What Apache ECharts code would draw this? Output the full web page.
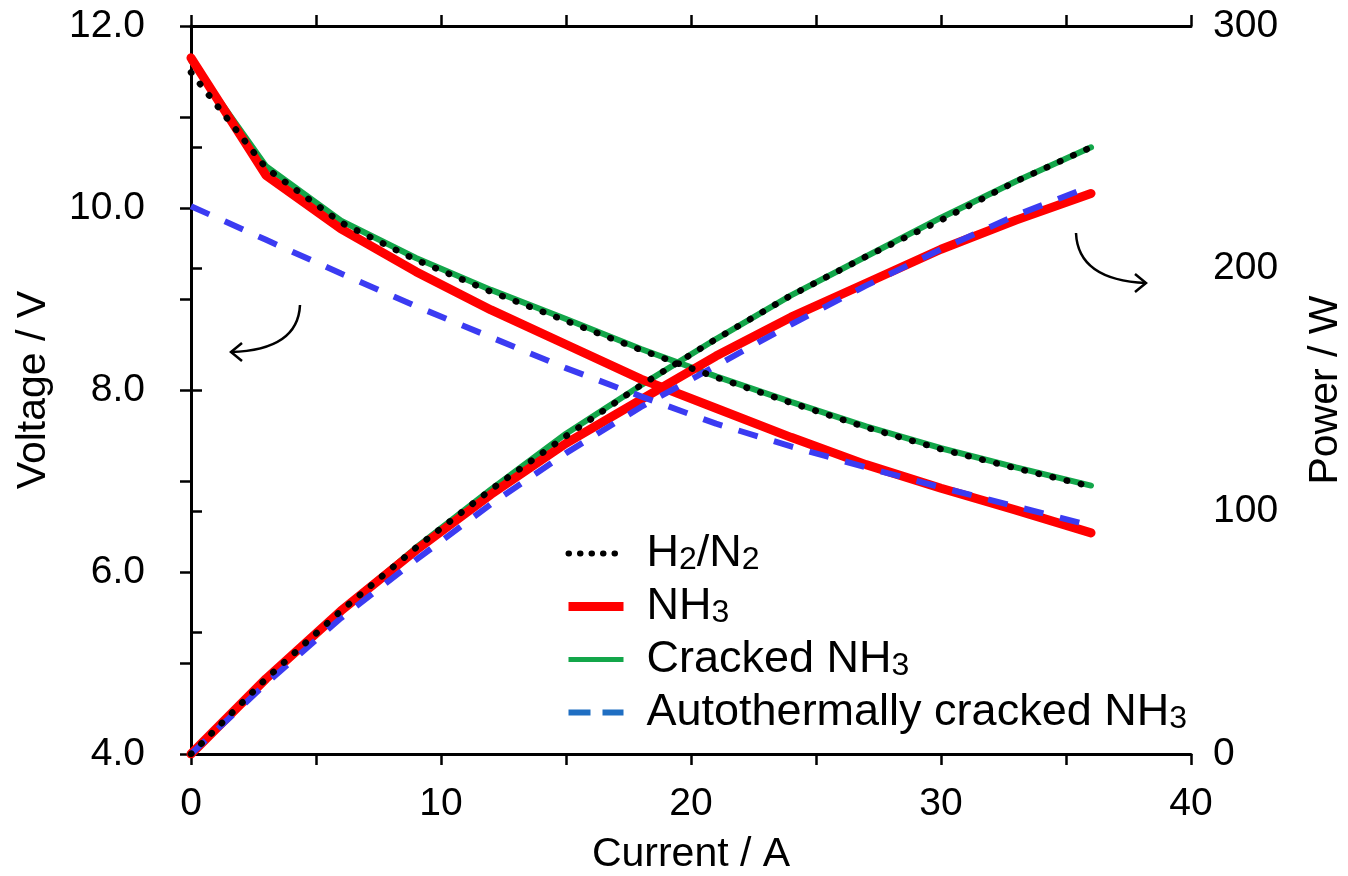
<!DOCTYPE html>
<html>
<head>
<meta charset="utf-8">
<script src="https://cdn.jsdelivr.net/npm/echarts@6/dist/echarts.min.js"></script>
<style>
  html, body { margin: 0; padding: 0; background: #fff; }
  #chart { width: 1348px; height: 876px; }
</style>
</head>
<body>
<div id="chart"></div>
<script>
// current steps (A)
const current = [0, 3, 6, 9, 12, 15, 18, 21, 24, 27, 30, 33, 36];
// voltage (V)
const voltH2N2    = [11.49, 10.44, 9.84, 9.43, 9.08, 8.76, 8.44, 8.14, 7.86, 7.59, 7.35, 7.14, 6.94];
const voltNH3     = [11.65, 10.36, 9.77, 9.30, 8.88, 8.50, 8.12, 7.80, 7.48, 7.18, 6.92, 6.68, 6.43];
const voltCracked = [11.62, 10.46, 9.86, 9.45, 9.10, 8.78, 8.45, 8.15, 7.87, 7.60, 7.36, 7.15, 6.95];
const voltAuto    = [10.02, 9.65, 9.28, 8.92, 8.58, 8.24, 7.93, 7.63, 7.38, 7.15, 6.93, 6.72, 6.51];
// power (W)
const powH2N2    = [0, 31, 59, 85, 109, 131, 152, 171, 189, 205, 220, 236, 250];
const powNH3     = [0, 31, 59, 84, 107, 128, 146, 164, 180, 194, 208, 220, 231];
const powCracked = [0, 31, 59, 85, 109, 132, 152, 171, 189, 205, 221, 236, 250];
const powAuto    = [0, 29, 56, 80, 103, 124, 143, 160, 177, 193, 208, 222, 234];

const richNames = {
  'H2/N2': 'H{s|2}/N{s|2}',
  'NH3': 'NH{s|3}',
  'Cracked NH3': 'Cracked NH{s|3}',
  'Autothermally cracked NH3': 'Autothermally cracked NH{s|3}'
};

const FONT = 'Liberation Sans';

function pairs(ys) {
  return current.map((x, i) => [x, ys[i]]);
}

const styles = {
  'H2/N2': { color: '#000', width: 6.5, type: [0.5, 14], cap: 'round' },
  'NH3': { color: '#ff0000', width: 9, type: 'solid', cap: 'round' },
  'Cracked NH3': { color: '#13a64a', width: 6, type: 'solid', cap: 'round' },
  'Autothermally cracked NH3': { color: '#3b3bf2', width: 6, type: [20, 17], cap: 'butt' }
};

function mk(name, ys, yIdx, z) {
  return {
    name: name,
    type: 'line',
    xAxisIndex: 0,
    yAxisIndex: yIdx,
    data: pairs(ys),
    symbol: 'none',
    z: z,
    lineStyle: styles[name],
    emphasis: { disabled: true }
  };
}

let chart = echarts.init(document.getElementById('chart'));

const axisLine = { show: true, lineStyle: { color: '#000', width: 3 } };
const axisTick = { show: true, inside: false, length: 11, lineStyle: { color: '#000', width: 2.5 } };

let option = {
  animation: false,
  backgroundColor: '#fff',
  grid: { left: 191, right: 157, top: 26, bottom: 122, outerBoundsMode: 'none' },
  xAxis: [
    {
      type: 'value', position: 'bottom', min: 0, max: 40, interval: 5,
      axisLine: axisLine, axisTick: axisTick, splitLine: { show: false },
      axisLabel: {
        margin: 31, fontSize: 39, fontFamily: FONT, color: '#000',
        formatter: v => (v % 10 === 0 ? String(v) : '')
      },
      name: 'Current / A', nameLocation: 'middle', nameGap: 80,
      nameTextStyle: { fontSize: 41, fontFamily: FONT, color: '#000' }
    },
    {
      type: 'value', position: 'top', min: 0, max: 40, interval: 5,
      axisLine: axisLine, axisTick: axisTick, splitLine: { show: false },
      axisLabel: { show: false }
    }
  ],
  yAxis: [
    {
      type: 'value', position: 'left', min: 4, max: 12, interval: 1,
      axisLine: axisLine, axisTick: axisTick, splitLine: { show: false },
      axisLabel: {
        margin: 46, fontSize: 39, fontFamily: FONT, color: '#000',
        formatter: v => (v % 2 === 0 ? v.toFixed(1) : '')
      }
    },
    {
      type: 'value', position: 'right', min: 0, max: 300, interval: 50,
      axisLine: axisLine, axisTick: axisTick, splitLine: { show: false },
      axisLabel: {
        margin: 22, fontSize: 39, fontFamily: FONT, color: '#000',
        formatter: v => (v % 100 === 0 ? String(v) : '')
      }
    }
  ],
  legend: {
    data: [
      { name: 'H2/N2', lineStyle: { width: 6, type: [0.5, 11], cap: 'round' } },
      { name: 'NH3', lineStyle: { width: 9, cap: 'butt' } },
      { name: 'Cracked NH3', lineStyle: { width: 5, cap: 'butt' } },
      { name: 'Autothermally cracked NH3', lineStyle: { color: '#1f6ec2', width: 6, type: [22, 12] } }
    ],
    orient: 'vertical',
    left: 559, top: 526,
    itemWidth: 55, itemHeight: 10, itemGap: 8,
    itemStyle: { color: 'rgba(0,0,0,0)', borderWidth: 0 },
    selectedMode: false,
    formatter: n => richNames[n],
    textStyle: {
      fontSize: 45, fontFamily: FONT, color: '#000', padding: [0, 0, 0, 18],
      rich: { s: { fontSize: 32, fontFamily: FONT, color: '#000', verticalAlign: 'bottom', lineHeight: 27 } }
    }
  },
  graphic: [
    { type: 'text', x: 34, y: 390, rotation: Math.PI / 2,
      style: { text: 'Voltage / V', font: '41px "Liberation Sans"', fill: '#000', align: 'center', verticalAlign: 'middle' } },
    { type: 'text', x: 1326, y: 390, rotation: Math.PI / 2,
      style: { text: 'Power / W', font: '41px "Liberation Sans"', fill: '#000', align: 'center', verticalAlign: 'middle' } },
    // curved arrows
    { type: 'bezierCurve', shape: { x1: 300, y1: 305, cpx1: 298, cpy1: 350, x2: 231, y2: 352 },
      style: { stroke: '#000', lineWidth: 2.5, fill: null } },
    { type: 'polyline', shape: { points: [[242, 343], [231, 352], [242, 361]] },
      style: { stroke: '#000', lineWidth: 2.5, fill: null } },
    { type: 'bezierCurve', shape: { x1: 1076, y1: 233, cpx1: 1078, cpy1: 280, x2: 1146, y2: 283 },
      style: { stroke: '#000', lineWidth: 2.5, fill: null } },
    { type: 'polyline', shape: { points: [[1135, 274], [1146, 283], [1135, 292]] },
      style: { stroke: '#000', lineWidth: 2.5, fill: null } }
  ],
  series: [
    mk('Cracked NH3', voltCracked, 0, 2),
    mk('Cracked NH3', powCracked, 1, 2),
    mk('NH3', voltNH3, 0, 3),
    mk('NH3', powNH3, 1, 3),
    mk('Autothermally cracked NH3', voltAuto, 0, 4),
    mk('Autothermally cracked NH3', powAuto, 1, 4),
    mk('H2/N2', voltH2N2, 0, 5),
    mk('H2/N2', powH2N2, 1, 5)
  ]
};

chart.setOption(option);
window.onresize = function () {
  chart.resize();
};
</script>
</body>
</html>
